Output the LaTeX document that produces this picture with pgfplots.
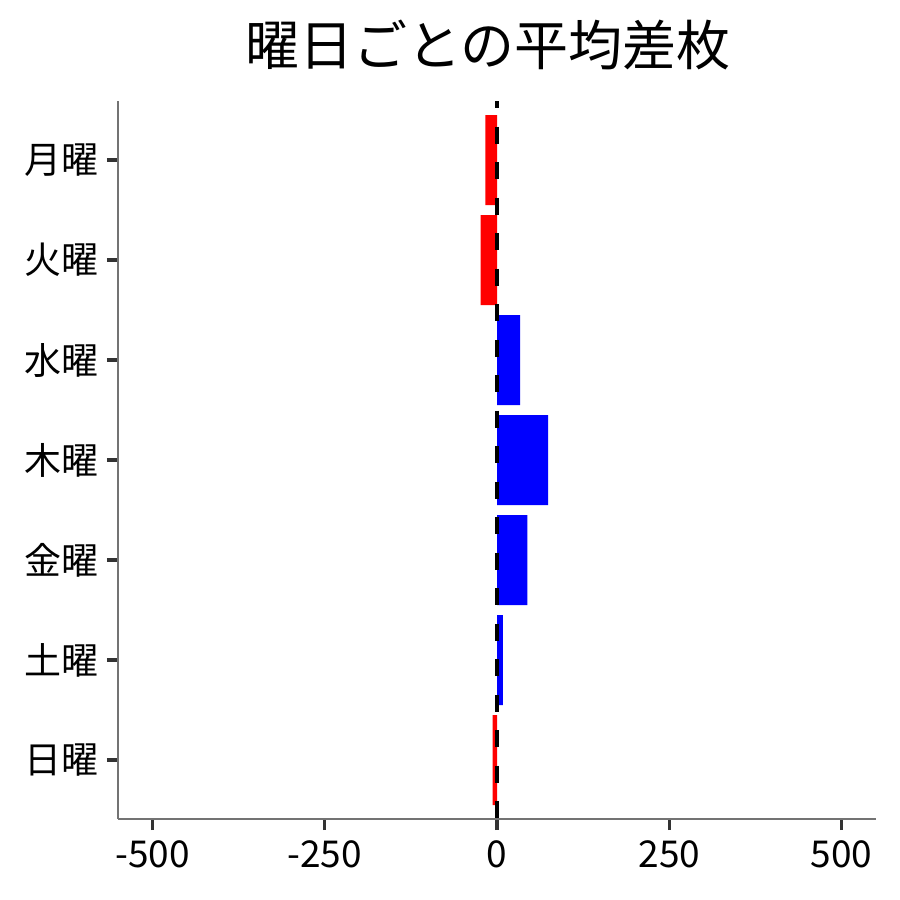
\documentclass[border=0pt]{standalone}
\usepackage{fontspec}
\setmainfont{Noto Sans CJK JP}
\usepackage{pgfplots}
\pgfplotsset{compat=1.18}

\begin{document}
\begin{tikzpicture}
\useasboundingbox (0,0) rectangle (900pt,900pt);
\begin{axis}[
    at={(118pt,81pt)}, anchor=south west,
    scale only axis, width=758pt, height=718pt,
    xmin=-550, xmax=550,
    ymin=-0.59, ymax=6.59, y dir=reverse,
    axis x line*=bottom, axis y line*=left,
    axis line style={draw=black!55, line width=1.3pt, -},
    xtick={-500,-250,0,250,500},
    xticklabels={-500,-250,0,250,500},
    ytick={0,1,2,3,4,5,6},
    yticklabels={月曜,火曜,水曜,木曜,金曜,土曜,日曜},
    tick align=outside, major tick length=11pt,
    every tick/.append style={draw=black!80, line width=3.5pt},
    xtick style={draw=black!80, line width=3.5pt},
    ytick style={draw=black!80, line width=3.5pt},
    ticklabel style={font=\fontsize{37}{40}\selectfont},
    xticklabel style={yshift=-7pt},
    yticklabel style={xshift=-5pt},
]
\addplot[xbar, bar width=0.9, fill=red, draw=none, bar shift=0] coordinates {
    (-16.7,0) (-23.9,1) (-6.2,6)
};
\addplot[xbar, bar width=0.9, fill=blue, draw=none, bar shift=0] coordinates {
    (33.6,2) (74.3,3) (44.2,4) (8.6,5)
};
\addplot[sharp plot, black, line width=4.5pt, dash pattern=on 17pt off 18.5pt, dash phase=10pt] coordinates {
    (0,-0.59) (0,6.59)
};
\end{axis}
\node[font=\fontsize{54}{60}\selectfont] at (488pt,855pt) {曜日ごとの平均差枚};
\end{tikzpicture}
\end{document}
